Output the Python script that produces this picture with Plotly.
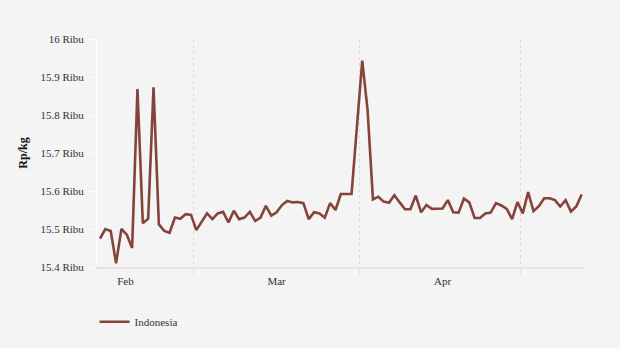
import pandas as pd
import plotly.graph_objects as go

# Daily prices (Rp/kg, in thousands) starting 2024-02-12
start_date = "2024-02-12"
prices = [
    15.475, 15.500, 15.495, 15.410, 15.500, 15.485, 15.450, 15.868, 15.515, 15.527,
    15.873, 15.512, 15.495, 15.490, 15.530, 15.527, 15.539, 15.537, 15.497, 15.520,
    15.541, 15.526, 15.541, 15.545, 15.517, 15.548, 15.526, 15.530, 15.545, 15.521,
    15.530, 15.561, 15.535, 15.544, 15.563, 15.574, 15.570, 15.571, 15.568, 15.526,
    15.544, 15.541, 15.530, 15.568, 15.550, 15.592, 15.592, 15.592, 15.768, 15.943,
    15.813, 15.578, 15.585, 15.572, 15.569, 15.589, 15.570, 15.552, 15.552, 15.588,
    15.544, 15.563, 15.553, 15.554, 15.554, 15.576, 15.544, 15.543, 15.580, 15.570,
    15.529, 15.529, 15.541, 15.543, 15.568, 15.562, 15.553, 15.526, 15.571, 15.541,
    15.597, 15.547, 15.560, 15.581, 15.581, 15.576, 15.559, 15.576, 15.546, 15.559,
    15.591,
]
series_name = "Indonesia"

y_tickvals = [15.4, 15.5, 15.6, 15.7, 15.8, 15.9, 16.0]
y_ticktext = ["15.4 Ribu", "15.5 Ribu", "15.6 Ribu", "15.7 Ribu", "15.8 Ribu", "15.9 Ribu", "16 Ribu"]

month_label_dates = ["2024-02-16 18:00", "2024-03-16 00:00", "2024-04-16 00:00"]
month_labels = ["Feb", "Mar", "Apr"]
month_boundaries = ["2024-02-29 12:00", "2024-03-31 12:00", "2024-04-30 12:00"]

dates = pd.date_range(start_date, periods=len(prices), freq="D")

FONT = "'Liberation Serif', 'DejaVu Serif', 'Times New Roman', Times, serif"
LINE_COLOR = "#85433b"
BG = "#f4f4f4"

fig = go.Figure()
fig.add_trace(go.Scatter(
    x=dates, y=prices, mode="lines", name=series_name,
    line=dict(color=LINE_COLOR, width=2.6),
))

fig.update_layout(
    template="none",
    width=620, height=348,
    margin=dict(l=97, r=35, t=39, b=81),
    paper_bgcolor=BG, plot_bgcolor=BG,
    font=dict(family=FONT, size=11, color="#333333"),
    showlegend=True,
    legend=dict(
        orientation="h", x=-0.005, xanchor="left", y=-0.24, yanchor="middle",
        font=dict(family=FONT, size=11, color="#333333"),
        bgcolor="rgba(0,0,0,0)",
    ),
    xaxis=dict(
        type="date",
        range=["2024-02-11 10:30", "2024-05-12 15:00"],
        tickmode="array", tickvals=month_label_dates, ticktext=month_labels,
        ticks="", showgrid=False, zeroline=False,
        showline=True, linecolor="#e4e4e4", linewidth=2,
        tickfont=dict(family=FONT, size=11, color="#333333"),
        ticklabelstandoff=3,
        automargin=False,
        minor=dict(
            tickmode="array", tickvals=month_boundaries,
            showgrid=True, gridcolor="#dcdcdc", gridwidth=1, griddash="3px,3px",
            ticks="outside", ticklen=6, tickcolor="#e4e4e4", tickwidth=1,
        ),
    ),
    yaxis=dict(
        range=[15.4, 16.0],
        tickmode="array", tickvals=y_tickvals, ticktext=y_ticktext,
        showgrid=False, zeroline=False,
        showline=True, linecolor="#ffffff", linewidth=1,
        ticks="outside", ticklen=6, tickcolor="#ffffff",
        tickfont=dict(family=FONT, size=11, color="#333333"),
        ticklabelstandoff=4,
        title=dict(text="<b>Rp/kg</b>", font=dict(family=FONT, size=12, color="#111111"), standoff=10),
        automargin=False,
    ),
)

fig.write_html("out.html")
